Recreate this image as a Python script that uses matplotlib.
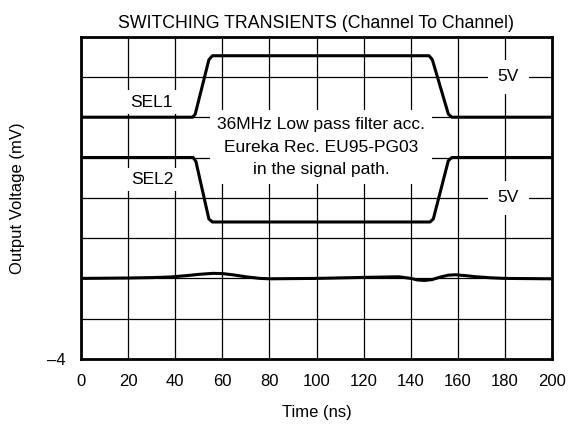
import matplotlib
matplotlib.use("Agg")
import matplotlib.pyplot as plt

plt.rcParams['font.family'] = ['Liberation Sans', 'DejaVu Sans']

# data
sel1_t = [0, 47.4, 48.5, 54.3, 55.8, 147.8, 149.2, 156.0, 157.5, 200]
sel1_v = [8.0, 8.0, 8.15, 10.85, 11.05, 11.05, 10.85, 8.15, 8.0, 8.0]
sel2_t = [0, 47.6, 48.8, 54.3, 55.8, 148.2, 149.6, 156.0, 157.5, 200]
sel2_v = [6.0, 6.0, 5.8, 2.95, 2.8, 2.8, 2.95, 5.85, 6.0, 6.0]
out_t = [0, 20, 30, 38, 45, 50, 56, 60, 65, 70, 76, 80, 100, 120, 135, 140, 143, 146, 149, 153, 156, 159, 163, 168, 174, 180, 200]
out_v = [0.0, 0.02, 0.04, 0.07, 0.14, 0.2, 0.25, 0.24, 0.17, 0.08, 0.0, -0.02, 0.0, 0.05, 0.08, 0.0, -0.08, -0.1, -0.06, 0.08, 0.16, 0.18, 0.14, 0.08, 0.03, 0.0, -0.02]

xticks = [0, 20, 40, 60, 80, 100, 120, 140, 160, 180, 200]
yticks = [-4, -2, 0, 2, 4, 6, 8, 10, 12]
yticklabels = ['\u20134', '', '', '', '', '', '', '', '']

fig = plt.figure(figsize=(5.69, 4.24), dpi=100)
ax = fig.add_axes([81/569, 1 - 359/424, (552-81)/569, (359-36.6)/424])

ax.set_xlim(0, 200)
ax.set_ylim(-4, 12)
ax.set_xticks(xticks)
ax.set_xticklabels([str(x) for x in xticks], fontsize=12)
ax.set_yticks(yticks)
ax.set_yticklabels(yticklabels, fontsize=12)
ax.tick_params(length=0, pad=11)
ax.grid(True, color='black', linewidth=0.9)
ax.set_axisbelow(True)
for s in ax.spines.values():
    s.set_linewidth(2)

lw = 2.2
ax.plot(sel1_t, sel1_v, color='black', lw=lw, solid_joinstyle='round', zorder=3)
ax.plot(sel2_t, sel2_v, color='black', lw=lw, solid_joinstyle='round', zorder=3)
ax.plot(out_t, out_v, color='black', lw=lw, solid_joinstyle='round', zorder=3)

box = dict(facecolor='white', edgecolor='none', pad=3)
ax.text(30.1, 8.75, 'SEL1', ha='center', va='center', fontsize=12.5, bbox=box, zorder=2)
ax.text(30.1, 4.9, 'SEL2', ha='center', va='center', fontsize=12.5, bbox=box, zorder=2)
ax.text(181.5, 10, '5V', ha='center', va='center', fontsize=12.5,
        bbox=dict(facecolor='white', edgecolor='none', pad=7), zorder=2)
ax.text(181.5, 4, '5V', ha='center', va='center', fontsize=12.5,
        bbox=dict(facecolor='white', edgecolor='none', pad=7), zorder=2)
ax.text(102, 6.52, '36MHz Low pass filter acc.\nEureka Rec. EU95-PG03\nin the signal path.',
        ha='center', va='center', fontsize=12.5, linespacing=1.65,
        bbox=dict(facecolor='white', edgecolor='none', pad=5), zorder=2)

ax.set_title('SWITCHING TRANSIENTS (Channel To Channel)', fontsize=12.8, pad=6)
ax.set_xlabel('Time (ns)', fontsize=12, labelpad=11)
ax.set_ylabel('Output Voltage (mV)', fontsize=12)
ax.yaxis.set_label_coords(-56/471, 0.5)

fig.savefig('out.png', dpi=100)
